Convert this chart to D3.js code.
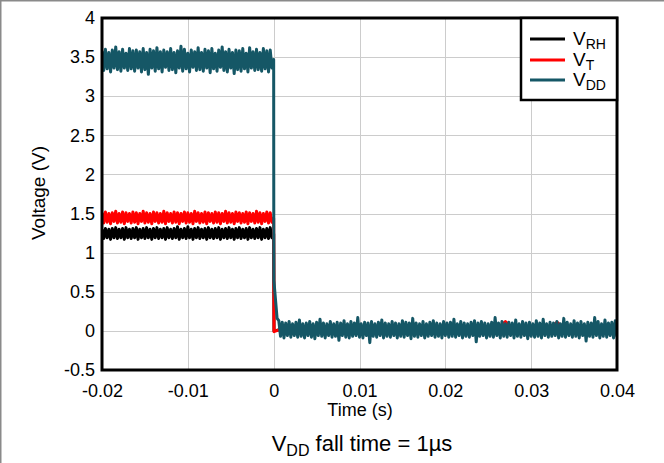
<!DOCTYPE html>
<html>
<head>
<meta charset="utf-8">
<script src="https://cdn.jsdelivr.net/npm/d3@7"></script>
<style>
  html, body { margin: 0; padding: 0; background: #fff; }
  svg { display: block; font-family: "Liberation Sans", Arial, sans-serif; }
</style>
</head>
<body>
<svg id="chart" width="664" height="463"></svg>
<script>
// ---------------- DATA ----------------
const xTicks = [-0.02, -0.01, 0, 0.01, 0.02, 0.03, 0.04];
const yTicks = [-0.5, 0, 0.5, 1, 1.5, 2, 2.5, 3, 3.5, 4];
const xTickLabels = ["-0.02", "-0.01", "0", "0.01", "0.02", "0.03", "0.04"];
const yTickLabels = ["-0.5", "0", "0.5", "1", "1.5", "2", "2.5", "3", "3.5", "4"];
const seriesNames = ["RH", "T", "DD"];
const seriesColors = ["#000000", "#ff0000", "#155766"];

// oscilloscope capture: uniform sample period
const sampleStep = 0.0002;
const preStart = -0.02;
const postStart = 0.0006;
const slowStep = 0.001;
const slowStart = 0.001;

// V_DD before the fall (V)
const vddPre = [
3.58,3.33,3.60,3.35,3.56,3.31,3.59,3.36,3.63,3.34,
3.57,3.32,3.60,3.36,3.55,3.33,3.61,3.35,3.58,3.32,
3.59,3.36,3.57,3.31,3.61,3.34,3.56,3.28,3.60,3.36,
3.58,3.32,3.62,3.35,3.57,3.31,3.59,3.37,3.57,3.33,
3.61,3.34,3.56,3.30,3.58,3.36,3.64,3.32,3.60,3.35,
3.55,3.31,3.59,3.37,3.57,3.33,3.62,3.34,3.56,3.32,
3.60,3.36,3.58,3.30,3.61,3.35,3.55,3.32,3.59,3.37,
3.63,3.33,3.57,3.31,3.60,3.36,3.56,3.29,3.59,3.34,
3.58,3.32,3.61,3.35,3.55,3.31,3.62,3.36,3.57,3.33,
3.60,3.34,3.56,3.32,3.61,3.35,3.58,3.31,3.59,3.36];
// V_T before the fall (V)
const vtPre = [
1.51,1.38,1.52,1.39,1.50,1.37,1.51,1.40,1.53,1.38,
1.50,1.39,1.52,1.37,1.51,1.40,1.50,1.38,1.52,1.39,
1.51,1.37,1.50,1.40,1.53,1.38,1.51,1.39,1.50,1.37,
1.52,1.40,1.51,1.38,1.50,1.39,1.53,1.37,1.51,1.40,
1.50,1.38,1.52,1.39,1.51,1.37,1.50,1.40,1.52,1.38,
1.51,1.39,1.50,1.37,1.53,1.40,1.51,1.38,1.50,1.39,
1.52,1.37,1.51,1.40,1.50,1.38,1.52,1.39,1.51,1.37,
1.50,1.40,1.53,1.38,1.51,1.39,1.50,1.37,1.52,1.40,
1.51,1.38,1.50,1.39,1.52,1.37,1.51,1.40,1.50,1.38,
1.53,1.39,1.51,1.37,1.50,1.40,1.52,1.38,1.51,1.39];
// V_RH before the fall (V)
const vrhPre = [
1.30,1.18,1.31,1.19,1.30,1.17,1.31,1.19,1.32,1.18,
1.30,1.19,1.31,1.17,1.32,1.19,1.30,1.18,1.31,1.19,
1.32,1.17,1.30,1.19,1.31,1.18,1.32,1.19,1.30,1.17,
1.31,1.19,1.32,1.18,1.30,1.19,1.31,1.17,1.32,1.19,
1.30,1.18,1.31,1.19,1.33,1.17,1.30,1.19,1.31,1.18,
1.33,1.19,1.30,1.17,1.31,1.19,1.32,1.18,1.30,1.19,
1.31,1.17,1.32,1.19,1.30,1.18,1.31,1.19,1.32,1.17,
1.30,1.19,1.31,1.18,1.32,1.19,1.30,1.17,1.31,1.19,
1.32,1.18,1.30,1.19,1.31,1.17,1.32,1.19,1.30,1.18,
1.31,1.19,1.32,1.17,1.30,1.19,1.31,1.18,1.32,1.19];

// the fall itself: [time (s), voltage (V)]
const vddFall = [[0, 3.47], [0.00002, 0.65], [0.0004, 0.16]];
const vtFall  = [[0, 1.44], [0.00004, -0.01]];
const vrhFall = [[0, 1.24], [0.00004, 0.00]];

// V_DD after the fall (V)
const vddPost = [
0.13,-0.07,0.11,-0.09,0.10,-0.06,0.12,-0.08,0.09,-0.06,
0.11,-0.08,0.14,-0.07,0.09,-0.09,0.10,-0.06,0.12,-0.08,
0.09,-0.10,0.11,-0.06,0.15,-0.07,0.10,-0.09,0.09,-0.06,
0.12,-0.08,0.09,-0.07,0.11,-0.12,0.10,-0.06,0.13,-0.08,
0.09,-0.09,0.12,-0.07,0.10,-0.06,0.17,-0.08,0.09,-0.09,
0.11,-0.06,0.10,-0.15,0.12,-0.07,0.09,-0.08,0.11,-0.06,
0.14,-0.09,0.10,-0.07,0.09,-0.08,0.12,-0.06,0.10,-0.09,
0.09,-0.07,0.13,-0.08,0.11,-0.06,0.10,-0.10,0.16,-0.07,
0.10,-0.08,0.09,-0.06,0.12,-0.09,0.09,-0.07,0.11,-0.06,
0.13,-0.08,0.10,-0.07,0.09,-0.09,0.12,-0.06,0.10,-0.08,
0.11,-0.07,0.15,-0.08,0.09,-0.06,0.12,-0.09,0.10,-0.07,
0.09,-0.08,0.11,-0.06,0.13,-0.14,0.10,-0.07,0.12,-0.06,
0.10,-0.09,0.09,-0.07,0.11,-0.08,0.17,-0.06,0.10,-0.09,
0.12,-0.07,0.09,-0.08,0.11,-0.06,0.10,-0.09,0.14,-0.07,
0.09,-0.08,0.12,-0.06,0.10,-0.10,0.11,-0.07,0.09,-0.08,
0.13,-0.07,0.10,-0.09,0.15,-0.06,0.09,-0.08,0.11,-0.07,
0.10,-0.06,0.12,-0.09,0.09,-0.07,0.16,-0.08,0.11,-0.06,
0.09,-0.08,0.13,-0.07,0.10,-0.09,0.12,-0.06,0.09,-0.13,
0.11,-0.07,0.10,-0.08,0.17,-0.06,0.12,-0.09,0.09,-0.07,
0.14,-0.08,0.10,-0.06,0.11,-0.09,0.13,-0.07,0.10,-0.08];
// V_T after the fall (V), mostly hidden under V_DD
const vtPost = [
0.03,0.01,0.04,0.02,0.00,0.03,0.02,0.01,0.04,0.02,
0.03,0.00,0.02,0.04,0.01,0.03,0.02,0.00,0.03,0.01,
0.04,0.02,0.01,0.03,0.00,0.02,0.12,0.01,0.03,0.02,
0.04,0.01,0.11,0.02,0.03,0.00,0.02,0.04,0.01,0.03];
// V_RH after the fall (V), hidden under V_DD
const vrhPost = [
0.02,0.00,0.03,0.01,0.02,0.00,0.03,0.01,0.02,0.01,
0.03,0.00,0.02,0.01,0.03,0.02,0.00,0.01,0.02,0.03,
0.01,0.00,0.02,0.03,0.01,0.02,0.00,0.03,0.01,0.02,
0.03,0.01,0.00,0.02,0.01,0.03,0.02,0.00,0.01,0.02];

// ---------------- CHART ----------------
const svg = d3.select("#chart");
const W = 664, H = 463;
const m = { left: 102, right: 617, top: 18, bottom: 370 };
const FONT = "'Liberation Sans', Arial, sans-serif";

const x = d3.scaleLinear().domain([-0.02, 0.04]).range([m.left, m.right]);
const y = d3.scaleLinear().domain([-0.5, 4]).range([m.bottom, m.top]);

// outer figure border (top & left)
svg.append("line").attr("x1", 0).attr("y1", 0.5).attr("x2", W).attr("y2", 0.5)
  .attr("stroke", "#8a8a8a").attr("stroke-width", 2);
svg.append("line").attr("x1", 0.5).attr("y1", 0).attr("x2", 0.5).attr("y2", H)
  .attr("stroke", "#8a8a8a").attr("stroke-width", 2);

// gridlines
const grid = svg.append("g");
grid.selectAll("line.vx").data(xTicks.slice(1, -1)).join("line")
  .attr("x1", d => Math.round(x(d)) + 0.5).attr("x2", d => Math.round(x(d)) + 0.5)
  .attr("y1", m.top).attr("y2", m.bottom)
  .attr("stroke", "#cccccc").attr("stroke-width", 1);
grid.selectAll("line.hy").data(yTicks.slice(1, -1)).join("line")
  .attr("y1", d => Math.round(y(d)) + 0.5).attr("y2", d => Math.round(y(d)) + 0.5)
  .attr("x1", m.left).attr("x2", m.right)
  .attr("stroke", "#cccccc").attr("stroke-width", 1);

// build series
function makeSeries(pre, fall, post, postT0, postDt) {
  const pts = pre.map((v, i) => [preStart + i * sampleStep, v]);
  fall.forEach(p => pts.push(p));
  post.forEach((v, i) => pts.push([postT0 + i * postDt, v]));
  return pts;
}
const series = [
  makeSeries(vrhPre, vrhFall, vrhPost, slowStart, slowStep),
  makeSeries(vtPre, vtFall, vtPost, slowStart, slowStep),
  makeSeries(vddPre, vddFall, vddPost, postStart, sampleStep)
];

svg.append("clipPath").attr("id", "clip").append("rect")
  .attr("x", m.left).attr("y", m.top)
  .attr("width", m.right - m.left).attr("height", m.bottom - m.top);

const line = d3.line().x(d => x(d[0])).y(d => y(d[1]));
const lines = svg.append("g").attr("clip-path", "url(#clip)");
series.forEach((s, i) => {
  lines.append("path").datum(s).attr("d", line)
    .attr("fill", "none").attr("stroke", seriesColors[i])
    .attr("stroke-width", 3).attr("stroke-linejoin", "round");
});

// plot frame
svg.append("rect").attr("x", m.left).attr("y", m.top)
  .attr("width", m.right - m.left).attr("height", m.bottom - m.top)
  .attr("fill", "none").attr("stroke", "#000").attr("stroke-width", 3);

// axes
const xAxis = d3.axisBottom(x).tickValues(xTicks).tickSize(0).tickPadding(14)
  .tickFormat((d, i) => xTickLabels[i]);
const gx = svg.append("g").attr("transform", `translate(0,${m.bottom})`).call(xAxis);
gx.select(".domain").remove();
gx.selectAll("text").attr("font-size", 18).attr("fill", "#000").attr("font-family", FONT);

const yAxis = d3.axisLeft(y).tickValues(yTicks).tickSize(0).tickPadding(7)
  .tickFormat((d, i) => yTickLabels[i]);
const gy = svg.append("g").attr("transform", `translate(${m.left},0)`).call(yAxis);
gy.select(".domain").remove();
gy.selectAll("text").attr("font-size", 18).attr("fill", "#000").attr("font-family", FONT);

// axis titles
svg.append("text").attr("x", 360).attr("y", 416)
  .attr("text-anchor", "middle").attr("font-size", 18).text("Time (s)");
svg.append("text").attr("transform", "translate(45,193) rotate(-90)")
  .attr("text-anchor", "middle").attr("font-size", 19).text("Voltage (V)");

// subtitle
const sub = svg.append("text").attr("x", 362).attr("y", 451)
  .attr("text-anchor", "middle").attr("font-size", 22);
sub.append("tspan").text("V");
sub.append("tspan").attr("font-size", 16).attr("dy", 5).text("DD");
sub.append("tspan").attr("dy", -5).text(" fall time = 1µs");

// legend
const lg = svg.append("g");
lg.append("rect").attr("x", 521).attr("y", m.top).attr("width", m.right - 521).attr("height", 82)
  .attr("fill", "#fff").attr("stroke", "#000").attr("stroke-width", 2.5);
const legendY = [39, 60, 80];
seriesNames.forEach((n, i) => {
  lg.append("line").attr("x1", 530).attr("x2", 565)
    .attr("y1", legendY[i]).attr("y2", legendY[i])
    .attr("stroke", seriesColors[i]).attr("stroke-width", 3);
  const t = lg.append("text").attr("x", 573).attr("y", legendY[i] + 6).attr("font-size", 19);
  t.append("tspan").text("V");
  t.append("tspan").attr("font-size", 14).attr("dy", 4).text(n);
});
</script>
</body>
</html>
